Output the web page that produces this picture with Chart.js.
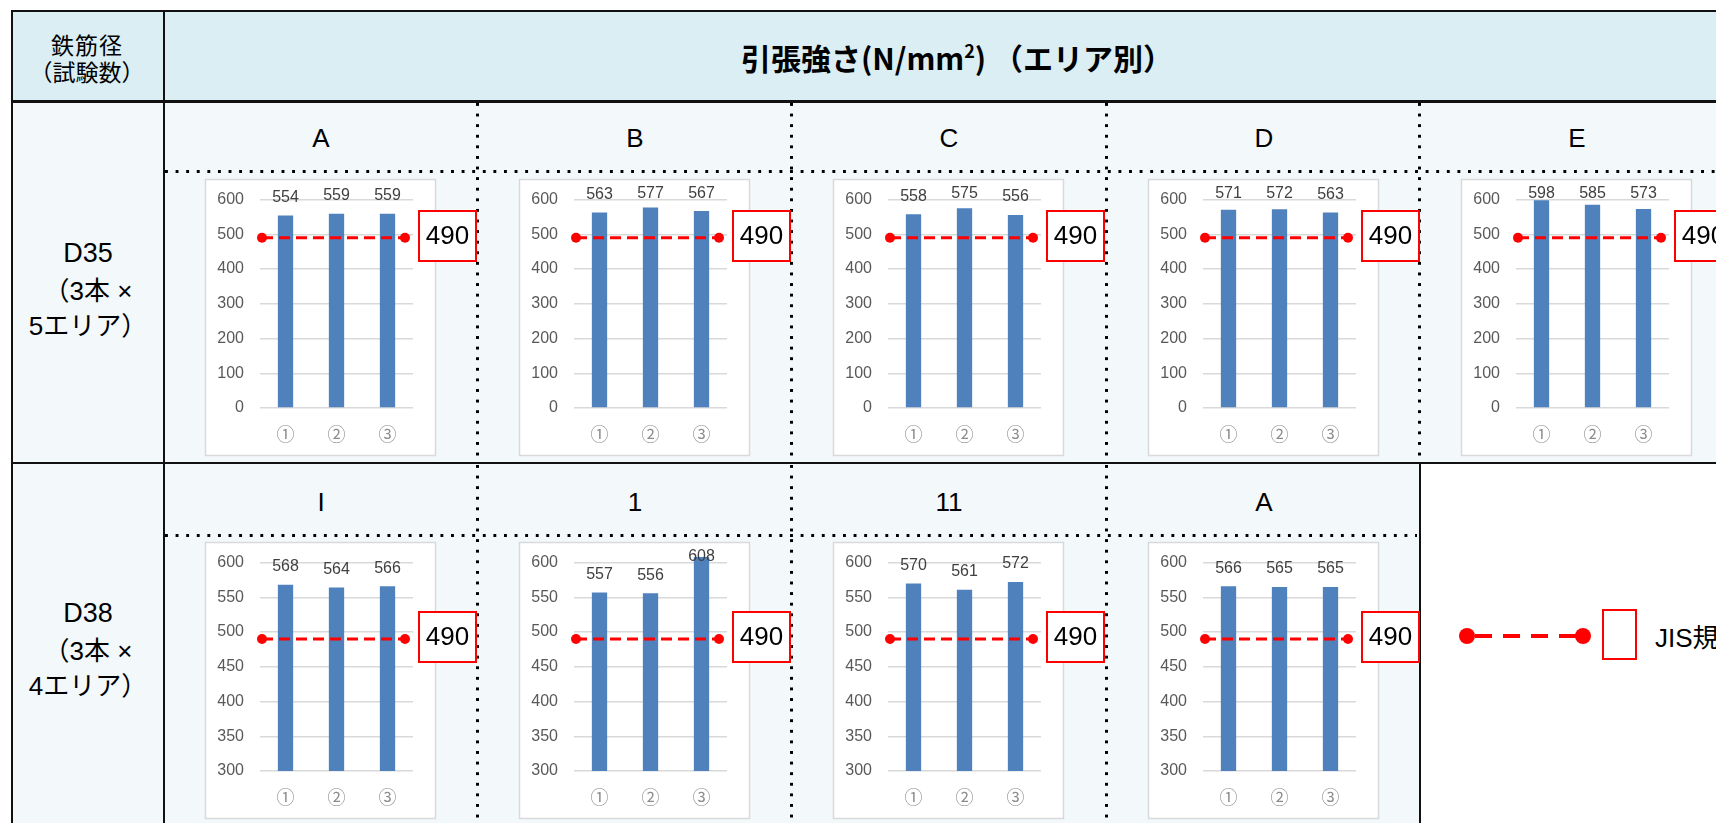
<!DOCTYPE html>
<html lang="ja">
<head>
<meta charset="utf-8">
<title>引張強さ（エリア別）</title>
<script src="https://cdn.jsdelivr.net/npm/chart.js@4.4.1/dist/chart.umd.min.js"></script>
<style>
  html, body { margin: 0; padding: 0; }
  body {
    width: 1716px; height: 823px; overflow: hidden; position: relative; background: #fff;
    font-family: "Liberation Sans", "Noto Sans CJK JP", sans-serif; color: #000;
  }
  .box { position: absolute; }
  .hl { position: absolute; height: 2px; background: #111; }
  .vl { position: absolute; width: 2px; background: #111; }
  .dv { position: absolute; width: 3px;
        background-image: linear-gradient(to bottom, #000 0, #000 3px, transparent 3px);
        background-size: 3px 10.6px; }
  .dh { position: absolute; height: 3px;
        background-image: linear-gradient(to right, #000 0, #000 3px, transparent 3px);
        background-size: 10.6px 3px; }
  .txt { position: absolute; transform: translate(-50%, -50%); white-space: nowrap; text-align: center; }
  canvas { position: absolute; }
</style>
</head>
<body>
<div class="box" style="left:12px;top:11px;width:1722px;height:91px;background:#daeef3"></div>
<div class="box" style="left:12px;top:102px;width:1722px;height:760px;background:#f3f8fb"></div>
<div class="box" style="left:1420px;top:463px;width:314px;height:400px;background:#fff"></div>

<div class="txt" style="left:87px;top:44px;font-size:23px;letter-spacing:1px">鉄筋径</div>
<div class="txt" style="left:87px;top:71px;font-size:23px">（試験数）</div>
<div class="txt" id="title" style="left:957px;top:57px;font-size:30px;font-weight:bold;font-family:'Noto Sans CJK JP',sans-serif">引張強さ(N/mm<sup style="font-size:18px;vertical-align:12px;line-height:0">2</sup>) （エリア別）</div>

<div class="txt" style="left:88px;top:253px;font-size:27px">D35</div>
<div class="txt" style="left:88px;top:288px;font-size:26px">（3本 ×</div>
<div class="txt" style="left:88px;top:323px;font-size:26px">5エリア）</div>
<div class="txt" style="left:88px;top:613px;font-size:27px">D38</div>
<div class="txt" style="left:88px;top:648px;font-size:26px">（3本 ×</div>
<div class="txt" style="left:88px;top:683px;font-size:26px">4エリア）</div>

<svg class="box" style="left:1420px;top:463px" width="300" height="360">
  <line x1="47" y1="173" x2="163" y2="173" stroke="#ff0000" stroke-width="4" stroke-dasharray="17 11" stroke-dashoffset="-8"/>
  <circle cx="47" cy="173" r="8" fill="#ff0000"/>
  <circle cx="163" cy="173" r="8" fill="#ff0000"/>
  <rect x="183" y="147" width="33" height="49" fill="#fff" stroke="#ff0000" stroke-width="2"/>
</svg>
<div class="box" style="left:1655px;top:621px;font-size:26px;line-height:34px;white-space:nowrap">JIS規格値</div>

<script>
// values
const d35Areas = ["A", "B", "C", "D", "E"];
const d35Values = [
    [554, 559, 559],
    [563, 577, 567],
    [558, 575, 556],
    [571, 572, 563],
    [598, 585, 573],
];
const d38Areas = ["I", "1", "11", "A"];
const d38Values = [
    [568, 564, 566],
    [557, 556, 608],
    [570, 561, 572],
    [566, 565, 565],
];
const specimens = ["①", "②", "③"];
const jisMin = 490;
const d35Axis = { min: 0, max: 600, step: 100 };
const d38Axis = { min: 300, max: 600, step: 50 };

// table geometry
const COL_X = [164, 478, 792, 1107, 1420];
const COL_W = 314;
const rows = [
    { letterY: 138, chartTop: 174, areas: d35Areas, values: d35Values, axis: d35Axis },
    { letterY: 502, chartTop: 537, areas: d38Areas, values: d38Values, axis: d38Axis },
];

function addEl(cls, style, text) {
    const el = document.createElement("div");
    el.className = cls;
    el.setAttribute("style", style);
    if (text !== undefined) el.textContent = text;
    document.body.appendChild(el);
    return el;
}

// table rules
addEl("hl", "left:12px;top:10px;width:1722px");
addEl("hl", "left:12px;top:100px;width:1722px;height:3px");
addEl("hl", "left:12px;top:462px;width:1722px");
addEl("vl", "left:11px;top:10px;height:820px");
addEl("vl", "left:163px;top:10px;height:820px");
addEl("vl", "left:1419px;top:463px;height:400px");
for (let i = 1; i < COL_X.length; i++) {
    addEl("dv", `left:${COL_X[i] - 2}px;top:103px;height:359px`);
    if (i < 4) addEl("dv", `left:${COL_X[i] - 2}px;top:465px;height:360px`);
}
addEl("dh", "left:165px;top:170px;width:1560px");
addEl("dh", "left:165px;top:534px;width:1252px");

Chart.defaults.font.family = "'Liberation Sans', 'Noto Sans CJK JP', sans-serif";

// white chart panel behind each plot
const panelPlugin = {
    id: "panel",
    beforeDraw(chart) {
        const { ctx, chartArea: a } = chart;
        const x = Math.round(a.left - 55), y = Math.round(a.top - 21);
        const w = Math.round(a.right - a.left + 77), h = Math.round(a.bottom - a.top + 68);
        ctx.save();
        ctx.fillStyle = "#ffffff";
        ctx.fillRect(x, y, w, h);
        ctx.strokeStyle = "#d9d9d9";
        ctx.lineWidth = 1.5;
        ctx.strokeRect(x + 0.5, y + 0.5, w, h);
        ctx.restore();
    }
};

// JIS line, value labels and the 490 tag
const overlayPlugin = {
    id: "overlay",
    afterDatasetsDraw(chart) {
        const { ctx, chartArea: a, scales } = chart;
        const ly = scales.y.getPixelForValue(jisMin);
        const x1 = a.left + 2, x2 = a.right - 8;
        ctx.save();
        ctx.strokeStyle = "#ff0000";
        ctx.lineWidth = 3;
        ctx.setLineDash([11, 6]);
        ctx.beginPath();
        ctx.moveTo(x1, ly);
        ctx.lineTo(x2, ly);
        ctx.stroke();
        ctx.setLineDash([]);
        ctx.fillStyle = "#ff0000";
        [x1, x2].forEach((x) => {
            ctx.beginPath();
            ctx.arc(x, ly, 5, 0, Math.PI * 2);
            ctx.fill();
        });

        const bars = chart.getDatasetMeta(0).data;
        const vals = chart.data.datasets[0].data;
        ctx.font = "16px 'Liberation Sans'";
        ctx.fillStyle = "#404040";
        ctx.textAlign = "center";
        ctx.textBaseline = "middle";
        bars.forEach((bar, i) => {
            ctx.fillText(String(vals[i]), bar.x, Math.max(bar.y - 18, a.top - 6));
        });

        const bx = chart.width - 58, by = Math.round(ly - 27);
        ctx.fillStyle = "#ffffff";
        ctx.fillRect(bx, by, 57, 50);
        ctx.strokeStyle = "#ff0000";
        ctx.lineWidth = 2;
        ctx.strokeRect(bx, by, 57, 50);
        ctx.fillStyle = "#000000";
        ctx.font = "26px 'Liberation Sans'";
        ctx.fillText(String(jisMin), bx + 28.5, by + 26);
        ctx.restore();
    }
};

function makeChart(canvas, values, axis) {
    return new Chart(canvas, {
        type: "bar",
        data: {
            labels: specimens,
            datasets: [{
                data: values,
                backgroundColor: "#4f81bd",
                barPercentage: 0.6,
                categoryPercentage: 0.5,
                clip: { left: 0, top: false, right: 0, bottom: 0 },
            }],
        },
        options: {
            responsive: false,
            animation: false,
            events: [],
            layout: { padding: { left: 40, right: 64, top: 22, bottom: 14 } },
            plugins: {
                legend: { display: false },
                tooltip: { enabled: false },
            },
            scales: {
                x: {
                    grid: { display: false, drawTicks: false },
                    border: { display: false },
                    ticks: { color: "#8c8c8c", padding: 15, font: { size: 18, family: "'Noto Sans CJK JP'" } },
                    afterFit: (s) => { s.height = 40; },
                },
                y: {
                    min: axis.min,
                    max: axis.max,
                    ticks: { stepSize: axis.step, color: "#595959", padding: 16, font: { size: 16 } },
                    grid: { color: "#d9d9d9", lineWidth: 1.5, drawTicks: false },
                    border: { display: false },
                    afterFit: (s) => { s.width = 55; },
                },
            },
        },
        plugins: [panelPlugin, overlayPlugin],
    });
}

rows.forEach((row) => {
    row.areas.forEach((area, i) => {
        const left = COL_X[i];
        addEl("txt", `left:${left + COL_W / 2}px;top:${row.letterY}px;font-size:26px`, area);
        const cv = document.createElement("canvas");
        cv.width = 312;
        cv.height = 288;
        cv.style.width = "312px";
        cv.style.height = "288px";
        cv.style.left = (left + 1) + "px";
        cv.style.top = row.chartTop + "px";
        document.body.appendChild(cv);
        makeChart(cv, row.values[i], row.axis);
    });
});
</script>
</body>
</html>
